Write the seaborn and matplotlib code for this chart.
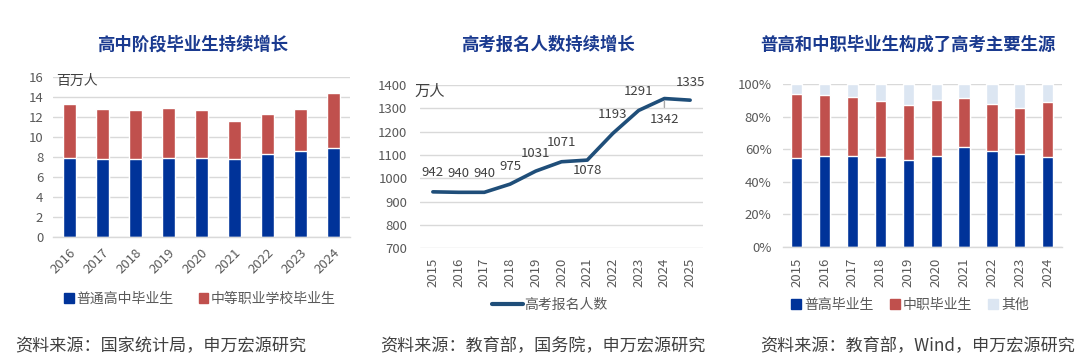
import numpy as np
import pandas as pd
import matplotlib
matplotlib.use("Agg")
import matplotlib.pyplot as plt
from matplotlib.patches import Patch
from matplotlib.lines import Line2D
import seaborn as sns

sns.set_theme(style="white")
plt.rcParams['font.family'] = ['Noto Sans CJK SC', 'DejaVu Sans']
plt.rcParams['axes.unicode_minus'] = False

# ---------------- data ----------------
years1 = ["2016", "2017", "2018", "2019", "2020", "2021", "2022", "2023", "2024"]
general_hs = [7.9, 7.77, 7.77, 7.9, 7.83, 7.77, 8.23, 8.6, 8.9]          # 百万人
vocational = [5.37, 4.96, 4.9, 4.93, 4.87, 3.8, 4.0, 4.17, 5.43]        # 百万人

years2 = ["2015", "2016", "2017", "2018", "2019", "2020", "2021", "2022", "2023", "2024", "2025"]
applicants = [942, 940, 940, 975, 1031, 1071, 1078, 1193, 1291, 1342, 1335]  # 万人

years3 = ["2015", "2016", "2017", "2018", "2019", "2020", "2021", "2022", "2023", "2024"]
share_general = [54.7, 55.5, 55.7, 54.9, 53.5, 55.5, 61.5, 59.0, 57.2, 55.1]
share_vocational = [39.4, 37.9, 36.3, 34.9, 33.6, 34.7, 29.9, 28.9, 28.0, 33.8]
share_other = [100 - a - b for a, b in zip(share_general, share_vocational)]

titles = ["高中阶段毕业生持续增长", "高考报名人数持续增长", "普高和中职毕业生构成了高考主要生源"]
sources = ["资料来源：国家统计局，申万宏源研究", "资料来源：教育部，国务院，申万宏源研究",
           "资料来源：教育部，Wind，申万宏源研究"]

BLUE = "#003399"
RED = "#C0504D"
LIGHT = "#DCE6F2"
LINE = "#1F4E79"
TITLE = "#1A3A8F"
TICK = "#595959"
GRID = "#D9D9D9"
TXT = "#404040"
TICKSIZE = 9.5

W, H = 1080, 363
fig = plt.figure(figsize=(W / 100, H / 100), dpi=100)
fig.patch.set_facecolor("white")


def px_axes(x0, x1, ytop, ybot):
    return fig.add_axes([x0 / W, (H - ybot) / H, (x1 - x0) / W, (ybot - ytop) / H])


def style_axes(ax, n):
    for s in ["top", "right", "left"]:
        ax.spines[s].set_visible(False)
    ax.spines["bottom"].set_color(GRID)
    ax.spines["bottom"].set_linewidth(1.0)
    ax.yaxis.grid(True, color=GRID, linewidth=1.0)
    ax.xaxis.grid(False)
    ax.set_axisbelow(True)
    ax.tick_params(axis="y", length=0, labelsize=TICKSIZE, labelcolor=TICK)
    ax.tick_params(axis="x", which="major", length=0, labelsize=TICKSIZE, labelcolor=TICK)
    ax.set_xlim(-0.5, n - 0.5)
    ax.set_xlabel("")
    ax.set_ylabel("")


# ---------------- panel 1 ----------------
ax1 = px_axes(53, 350, 76.7, 236.7)
total1 = [a + b for a, b in zip(general_hs, vocational)]
df1 = pd.DataFrame({"year": years1, "total": total1, "general": general_hs})
sns.barplot(data=df1, x="year", y="total", color=RED, width=0.42, saturation=1, ax=ax1)
sns.barplot(data=df1, x="year", y="general", color=BLUE, width=0.42, saturation=1, ax=ax1)
style_axes(ax1, len(years1))
ax1.set_ylim(0, 16)
ax1.set_yticks(range(0, 17, 2))
ax1.tick_params(axis="y", pad=7)
ax1.set_xticks(np.arange(len(years1) + 1) - 0.5, minor=True)
ax1.tick_params(axis="x", which="minor", length=4, color=GRID, width=1)
for lab in ax1.get_xticklabels():
    lab.set_rotation(45)
    lab.set_ha("right")
    lab.set_rotation_mode("anchor")
ax1.tick_params(axis="x", which="major", pad=7)
ax1.text(0.01, 0.975, "百万人", transform=ax1.transAxes, va="center", ha="left",
         fontsize=10, color=TXT)

# ---------------- panel 2 ----------------
ax2 = px_axes(420, 703, 85, 248.3)
df2 = pd.DataFrame({"year": years2, "n": applicants})
sns.lineplot(data=df2, x="year", y="n", color=LINE, linewidth=2.6, ax=ax2, sort=False)
style_axes(ax2, len(years2))
ax2.set_ylim(700, 1400)
ax2.set_yticks(range(700, 1401, 100))
ax2.tick_params(axis="y", pad=9)
ax2.spines["bottom"].set_visible(False)
for lab in ax2.get_xticklabels():
    lab.set_rotation(90)
ax2.tick_params(axis="x", which="major", pad=7)
offsets = [19, 19, 19, 18, 18, 19, -10, 19, 19, -21, 18]
for i, (v, off) in enumerate(zip(applicants, offsets)):
    ax2.annotate(str(v), xy=(i, v), xytext=(0, off), textcoords="offset pixels",
                 ha="center", va="center", fontsize=9.5, color=TXT, annotation_clip=False)
ax2.annotate("", xy=(9, 1342), xytext=(9, 1342 - 50),
             arrowprops=dict(arrowstyle="-", color="#A6A6A6", lw=1))
ax2.text(-0.02, 0.96, "万人", transform=ax2.transAxes, va="center", ha="left",
         fontsize=11, color=TXT)

# ---------------- panel 3 ----------------
ax3 = px_axes(782.7, 1061.7, 84, 246.7)
top_red = [a + b for a, b in zip(share_general, share_vocational)]
top_all = [a + b + c for a, b, c in zip(share_general, share_vocational, share_other)]
df3 = pd.DataFrame({"year": years3, "all": top_all, "red": top_red, "gen": share_general})
sns.barplot(data=df3, x="year", y="all", color=LIGHT, width=0.4, saturation=1, ax=ax3)
sns.barplot(data=df3, x="year", y="red", color=RED, width=0.4, saturation=1, ax=ax3)
sns.barplot(data=df3, x="year", y="gen", color=BLUE, width=0.4, saturation=1, ax=ax3)
style_axes(ax3, len(years3))
ax3.set_ylim(0, 100)
ax3.set_yticks(range(0, 101, 20))
ax3.set_yticklabels([f"{v}%" for v in range(0, 101, 20)])
ax3.tick_params(axis="y", pad=8)
ax3.set_xticks(np.arange(len(years3) + 1) - 0.5, minor=True)
ax3.tick_params(axis="x", which="minor", length=4, color=GRID, width=1)
for lab in ax3.get_xticklabels():
    lab.set_rotation(90)
ax3.tick_params(axis="x", which="major", pad=8)

# ---------------- titles / sources ----------------
for cx, t in zip([193, 548, 908], titles):
    fig.text(cx / W, 1 - 45 / H, t, ha="center", va="center", fontsize=12.5,
             fontweight="bold", color=TITLE)
for x0, s in zip([15, 380, 760], sources):
    fig.text(x0 / W, 1 - 346 / H, s, ha="left", va="center", fontsize=12.3, color=TXT)

# ---------------- legends ----------------
leg_kw = dict(frameon=False, fontsize=10, labelcolor=TICK, handlelength=0.7,
              handleheight=0.7, handletextpad=0.2, borderaxespad=0, borderpad=0)
fig.legend(handles=[Patch(color=BLUE, label="普通高中毕业生"),
                    Patch(color=RED, label="中等职业学校毕业生")],
           loc="center", bbox_to_anchor=(200 / W, 1 - 299 / H), ncol=2,
           columnspacing=1.8, **leg_kw)
fig.legend(handles=[Line2D([0], [0], color=LINE, lw=3, label="高考报名人数")],
           loc="center", bbox_to_anchor=(550 / W, 1 - 305 / H), frameon=False,
           fontsize=10, labelcolor=TICK, handlelength=2.2, handletextpad=0.1)
fig.legend(handles=[Patch(color=BLUE, label="普高毕业生"),
                    Patch(color=RED, label="中职毕业生"),
                    Patch(color=LIGHT, label="其他")],
           loc="center", bbox_to_anchor=(910 / W, 1 - 305 / H), ncol=3,
           columnspacing=1.2, **leg_kw)

fig.savefig("out.png", dpi=100, facecolor="white")
